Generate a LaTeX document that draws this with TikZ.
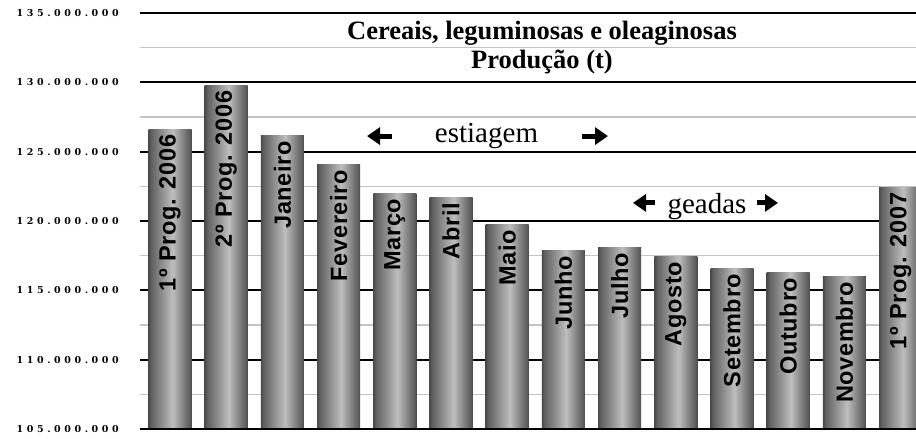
\documentclass[tikz,border=0pt]{standalone}
\usepackage{fontspec}
\setmainfont{Liberation Serif}
\newfontfamily\barfont[LetterSpace=3]{Liberation Sans}
\newfontfamily\axisfont[LetterSpace=38]{DejaVu Serif}
\usetikzlibrary{positioning,arrows.meta}
\definecolor{bardark}{HTML}{4A4A4A}
\definecolor{barmid}{HTML}{828282}
\definecolor{barlight}{HTML}{BEBEBE}
\definecolor{minorgray}{HTML}{C4C4C4}
\pgfdeclarehorizontalshading{barshade}{100bp}{color(0bp)=(bardark);
color(25bp)=(bardark); color(28bp)=(bardark!60!barmid); color(37bp)=(barmid);
color(53bp)=(barlight); color(65bp)=(barmid); color(73bp)=(bardark!70!barmid);
color(75bp)=(bardark); color(100bp)=(bardark)}

\begin{document}
\begin{tikzpicture}[x=1pt, y=13.87pt,
major/.style={line width=2pt, black}, minor/.style={line width=1.5pt,
minorgray}, bar/.style={shading=barshade, inner sep=0pt, minimum width=43pt,
minimum height=#1*13.87pt, anchor=south}, barlabel/.style={rotate=90,
anchor=east, inner sep=5pt, font=\barfont\bfseries\fontsize{23.5pt}{25pt}%
\selectfont}, axislabel/.style={anchor=east, inner sep=0pt,
font=\axisfont\bfseries\fontsize{9.5pt}{12pt}\selectfont},
title/.style={anchor=base, inner sep=0pt,
font=\bfseries\fontsize{26.5pt}{28pt}\selectfont}, period/.style={anchor=base,
inner sep=0pt, font=\fontsize{29pt}{30pt}\selectfont},
heavy/.style={line width=5pt, -{Triangle[length=13pt,width=17pt]}}]
\useasboundingbox (0,-0.721) rectangle (916,30.93);
% grid
\draw[minor] (140,2.5) -- (916,2.5) (140,7.5) -- (916,7.5) (140,12.5) --
(916,12.5) (140,17.5) -- (916,17.5) (140,22.5) -- (916,22.5) (140,27.5) --
(916,27.5); \draw[major] (140,5) -- (916,5) (140,10) -- (916,10) (140,15) --
(916,15) (140,20) -- (916,20) (140,25) -- (916,25) (140,30) -- (916,30);
% axis
\node (ax135) [axislabel] at (119,30) {135.000.000}; \node (ax130)
[axislabel] at (119,25) {130.000.000}; \node (ax125) [axislabel] at (119,20)
{125.000.000}; \node (ax120) [axislabel] at (119,15) {120.000.000}; \node
(ax115) [axislabel] at (119,10) {115.000.000}; \node (ax110) [axislabel] at
(119,5) {110.000.000}; \node (ax105) [axislabel] at (119,0) {105.000.000};
% bars
\node (P06a) [bar=21.56] at (170,0) {}; \node (P06b) [bar=24.73] at
(226.2,0) {}; \node (Jan) [bar=21.12] at (282.4,0) {}; \node (Fev)
[bar=19.03] at (338.6,0) {}; \node (Mar) [bar=16.94] at (394.8,0) {}; \node
(Abr) [bar=16.65] at (451,0) {}; \node (Mai) [bar=14.71] at (507.2,0) {};
\node (Jun) [bar=12.83] at (563.4,0) {}; \node (Jul) [bar=13.05] at
(619.6,0) {}; \node (Ago) [bar=12.40] at (675.8,0) {}; \node (Set)
[bar=11.54] at (732,0) {}; \node (Out) [bar=11.25] at (788.2,0) {}; \node
(Nov) [bar=10.96] at (844.4,0) {}; \node (P07) [bar=17.38] at (900.6,0) {};
\draw[major] (140,0) -- (916,0);
\node (lP06a) [barlabel] at (P06a.north) {1º Prog. 2006}; \node (lP06b)
[barlabel] at (P06b.north) {2º Prog. 2006}; \node (lJan) [barlabel] at
(Jan.north) {Janeiro}; \node (lFev) [barlabel] at (Fev.north) {Fevereiro};
\node (lMar) [barlabel] at (Mar.north) {Março}; \node (lAbr) [barlabel] at
(Abr.north) {Abril}; \node (lMai) [barlabel] at (Mai.north) {Maio}; \node
(lJun) [barlabel] at (Jun.north) {Junho}; \node (lJul) [barlabel] at
(Jul.north) {Julho}; \node (lAgo) [barlabel] at (Ago.north) {Agosto}; \node
(lSet) [barlabel] at (Set.north) {Setembro}; \node (lOut) [barlabel] at
(Out.north) {Outubro}; \node (lNov) [barlabel] at (Nov.north) {Novembro};
\node (lP07) [barlabel] at (P07.north) {1º Prog. 2007};
% titles
\node (tit) [title] at (542,28.05) {Cereais, leguminosas e oleaginosas};
\node (sub) [title] at (542,25.96) {Produção (t)};
% periods
\node (est) [period] at (486.5,20.62) {estiagem}; \coordinate (estLa) at
(392,21.12); \coordinate (estLb) at (367,21.12); \coordinate (estRa) at
(582,21.12); \coordinate (estRb) at (608,21.12); \draw[heavy] (estLa) --
(estLb); \draw[heavy] (estRa) -- (estRb);
\node (gea) [period] at (707,15.57) {geadas}; \coordinate (geaLa) at
(655,16.3); \coordinate (geaLb) at (633,16.3); \coordinate (geaRa) at
(757,16.3); \coordinate (geaRb) at (778,16.3); \draw[heavy] (geaLa) --
(geaLb); \draw[heavy] (geaRa) -- (geaRb);
\end{tikzpicture}
\end{document}
